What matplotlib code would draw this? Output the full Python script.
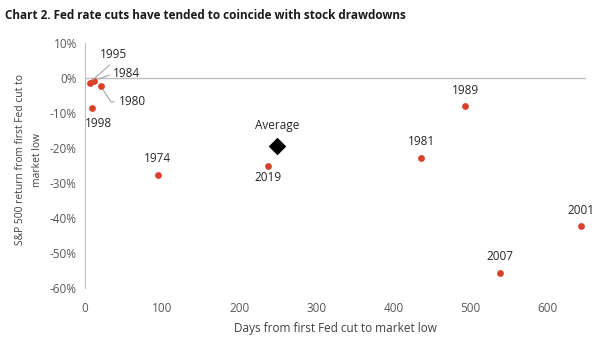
import matplotlib
matplotlib.use("Agg")
import matplotlib.pyplot as plt
from matplotlib.ticker import FuncFormatter

# data
years = ["1974", "1980", "1981", "1984", "1989", "1995", "1998", "2001", "2007", "2019"]
days = [94, 20, 436, 12, 493, 6, 9, 643, 538, 237]
returns = [-27.6, -2.2, -22.7, -0.7, -8.1, -1.3, -8.6, -42.4, -55.7, -25.0]
avg_days = 249
avg_return = -19.5

RED = "#d9412b"
GREY = "#595959"
LINE = "#bfbfbf"

plt.rcParams["font.family"] = ["Open Sans", "DejaVu Sans"]

fig = plt.figure(figsize=(6.08, 3.4), dpi=100)
ax = fig.add_axes([0.140, 0.153, 0.824, 0.720])

ax.scatter(days, returns, s=24, color=RED, zorder=3, linewidths=0)
ax.scatter([avg_days], [avg_return], s=80, marker="D", color="black", zorder=3, linewidths=0)

# label offsets in pixels (dx, dy)
offsets = {
    "1974": (0, 16),
    "1981": (0, 16),
    "1989": (0, 16),
    "2001": (0, 16),
    "2007": (0, 16),
    "2019": (0, -12),
    "1998": (6, -15),
}
for yr, d, r in zip(years, days, returns):
    if yr in offsets:
        ax.annotate(yr, (d, r), xytext=offsets[yr], textcoords="offset pixels",
                    ha="center", va="center", fontsize=8.5, color="#262626")

ax.annotate("Average", (avg_days, avg_return), xytext=(0, 21), textcoords="offset pixels",
            ha="center", va="center", fontsize=8.5, color="#262626")

# labels with leader lines
lead = dict(arrowstyle="-", color="#a6a6a6", lw=0.8, shrinkA=1, shrinkB=3)
i = years.index("1995")
ax.annotate("1995", (days[i], returns[i]), xytext=(24, 28), textcoords="offset pixels",
            ha="center", va="center", fontsize=8.5, color="#262626",
            arrowprops=dict(lead, relpos=(0.5, 0.0)))
i = years.index("1984")
ax.annotate("1984", (days[i], returns[i]), xytext=(19, 7), textcoords="offset pixels",
            ha="left", va="center", fontsize=8.5, color="#262626",
            arrowprops=dict(lead, relpos=(0.0, 0.5)))
i = years.index("1980")
ax.annotate("1980", (days[i], returns[i]), xytext=(18, -16), textcoords="offset pixels",
            ha="left", va="center", fontsize=8.5, color="#262626",
            arrowprops=dict(lead, relpos=(0.0, 0.5),
                            connectionstyle="angle,angleA=0,angleB=-57,rad=0"))

ax.axhline(0, color=LINE, lw=1, zorder=1)
ax.set_xlim(0, 650)
ax.set_ylim(-60, 10)
ax.set_xticks([0, 100, 200, 300, 400, 500, 600])
ax.set_yticks(range(-60, 11, 10))
ax.yaxis.set_major_formatter(FuncFormatter(lambda v, p: f"{v:.0f}%"))
ax.tick_params(length=0, labelsize=8.5, labelcolor=GREY, pad=6)
ax.tick_params(axis="x", pad=10)

for side in ["top", "right", "bottom"]:
    ax.spines[side].set_visible(False)
ax.spines["left"].set_color(LINE)

ax.set_xlabel("Days from first Fed cut to market low", fontsize=8.5, color="#404040", labelpad=5)
fig.text(29 / 608, 1 - 160 / 340, "S&P 500 return from first Fed cut to\nmarket low",
         rotation=90, ha="center", va="center", fontsize=7.4, color="#404040",
         linespacing=1.75, multialignment="center")

fig.text(0.008, 0.955, "Chart 2. Fed rate cuts have tended to coincide with stock drawdowns",
         fontsize=8.5, fontweight="bold", color="#1a1a1a", ha="left", va="center")

fig.savefig("out.png", dpi=100)
